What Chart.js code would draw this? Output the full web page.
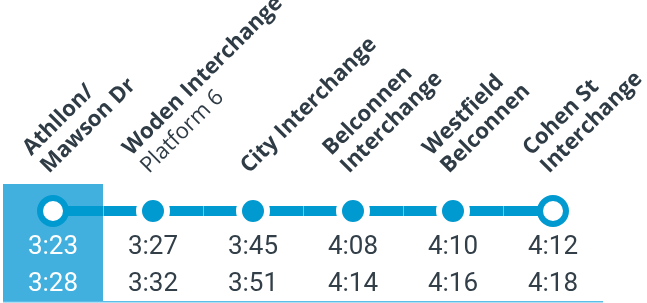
<!DOCTYPE html>
<html>
<head>
<meta charset="utf-8">
<script src="https://cdn.jsdelivr.net/npm/chart.js@4.4.1/dist/chart.umd.min.js"></script>
<style>
  html, body { margin: 0; padding: 0; background: #fff; }
  #wrap { width: 647px; height: 303px; }
</style>
</head>
<body>
<div id="wrap"><canvas id="routeChart" width="647" height="303"></canvas></div>
<script>
// stops along the route, bold name lines + a light note line
const stopNames = [
    ['Athllon/', 'Mawson Dr'],
    ['Woden Interchange'],
    ['City Interchange'],
    ['Belconnen', 'Interchange'],
    ['Westfield', 'Belconnen'],
    ['Cohen St', 'Interchange']
];
const stopNotes = ['', 'Platform 6', '', '', '', ''];

// departure times for the two trips
const firstTrip = ['3:23', '3:27', '3:45', '4:08', '4:10', '4:12'];
const secondTrip = ['3:28', '3:32', '3:51', '4:14', '4:16', '4:18'];

// the route line sits on one level
const routeLevel = [1, 1, 1, 1, 1, 1];

const lineBlue = '#0099d0';
const panelBlue = '#41b0df';
const textDark = '#2f3c46';

const routePlugin = {
    id: 'routeDecor',
    beforeDraw(chart) {
        const ctx = chart.ctx;
        const x = chart.scales.x;
        const area = chart.chartArea;
        const step = x.getPixelForValue(1) - x.getPixelForValue(0);
        ctx.save();
        ctx.fillStyle = '#fff';
        ctx.fillRect(0, 0, chart.width, chart.height);
        // highlighted first stop
        ctx.fillStyle = panelBlue;
        ctx.fillRect(x.getPixelForValue(0) - step / 2, area.top - 9, step, chart.height - area.top + 7);
        // thin rule under the times
        ctx.fillStyle = '#5bbde8';
        ctx.fillRect(area.left, chart.height - 2, area.right - area.left, 1.5);
        ctx.restore();
    },
    afterDatasetsDraw(chart) {
        const ctx = chart.ctx;
        const x = chart.scales.x;
        const y = chart.scales.y;
        const step = x.getPixelForValue(1) - x.getPixelForValue(0);
        const lineY = y.getPixelForValue(routeLevel[0]);
        ctx.save();
        ctx.fillStyle = 'rgba(255,255,255,0.45)';
        for (let i = 1; i < stopNames.length; i++) {
            const bx = Math.round(x.getPixelForValue(i) - step / 2);
            ctx.fillRect(bx, lineY - 6, 1, 12);
        }
        ctx.restore();
    },
    afterDraw(chart) {
        const ctx = chart.ctx;
        const x = chart.scales.x;
        const lh = 25;
        ctx.save();
        ctx.fillStyle = textDark;
        ctx.textAlign = 'left';
        ctx.textBaseline = 'alphabetic';
        stopNames.forEach((lines, i) => {
            const all = lines.map(t => ({ text: t, bold: true }));
            if (stopNotes[i]) all.push({ text: stopNotes[i], bold: false });
            ctx.save();
            ctx.translate(x.getPixelForValue(i) - 4, 174);
            ctx.rotate(-Math.PI / 4);
            all.forEach((ln, k) => {
                ctx.font = (ln.bold ? '700 ' : '400 ') + '22px "Open Sans"';
                ctx.fillText(ln.text, 0, -(all.length - 1 - k) * lh);
            });
            ctx.restore();
        });
        ctx.restore();
    }
};

function isEnd(i) {
    return i === 0 || i === routeLevel.length - 1;
}

const chart = new Chart(document.getElementById('routeChart'), {
    type: 'line',
    data: {
        labels: firstTrip.map((t, i) => [t, secondTrip[i]]),
        datasets: [{
            data: routeLevel,
            borderColor: lineBlue,
            borderWidth: 10,
            pointRadius: c => isEnd(c.dataIndex) ? 13 : 14,
            pointBorderWidth: 6,
            pointBackgroundColor: c => isEnd(c.dataIndex) ? '#fff' : lineBlue,
            pointBorderColor: c => isEnd(c.dataIndex) ? lineBlue : '#fff',
            pointHoverRadius: 14,
            clip: false,
            tension: 0
        }]
    },
    options: {
        responsive: false,
        animation: false,
        events: [],
        layout: { autoPadding: false, padding: { top: 193, left: 3, right: 44, bottom: 0 } },
        plugins: { legend: { display: false }, tooltip: { enabled: false } },
        scales: {
            x: {
                type: 'category',
                offset: true,
                grid: { display: false, drawTicks: false },
                border: { display: false },
                afterFit(scale) {
                    // fixed room for the two time rows, no edge padding
                    scale.height = 74;
                    scale.paddingLeft = 0;
                    scale.paddingRight = 0;
                },
                ticks: {
                    autoSkip: false,
                    maxRotation: 0,
                    padding: 0,
                    color: c => c.index === 0 ? '#fff' : '#333f48',
                    font: { family: 'Roboto', size: 26, weight: '400', lineHeight: '37px' }
                }
            },
            y: {
                display: false,
                min: 0,
                max: 2
            }
        }
    },
    plugins: [routePlugin]
});
</script>
</body>
</html>
